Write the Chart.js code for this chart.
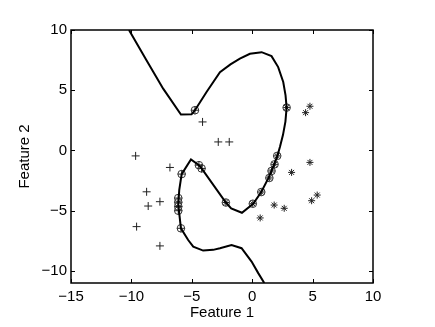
<!DOCTYPE html>
<html>
<head>
<meta charset="utf-8">
<script src="https://cdn.jsdelivr.net/npm/chart.js@4"></script>
<style>
  html, body { margin: 0; padding: 0; background: #fff; }
  #wrap { width: 435px; height: 327px; }
</style>
</head>
<body>
<div id="wrap"><canvas id="svmChart"></canvas></div>
<script>
// decision boundary, traced in order
const boundaryX = [-10.2, -8.74, -7.37, -5.9, -5.02, -4.74, -3.78, -2.67, -1.8, -1.02, -0.19, 0.78, 1.6, 2.15, 2.57, 2.76, 2.85, 2.75, 2.55, 2.3, 2.07, 1.6, 1.33, 0.75, 0.08, -0.85, -1.74, -2.18, -4.19, -4.41, -5.07, -5.84, -6.04, -6.12, -5.9, -5.3, -4.88, -4.06, -3.23, -2.67, -1.71, -0.88, -0.05, 0.5, 1.0];
const boundaryY = [10.0, 7.47, 5.13, 2.98, 3.0, 3.34, 4.85, 6.5, 7.15, 7.62, 8.03, 8.16, 7.83, 6.92, 5.68, 4.58, 3.56, 2.4, 1.3, 0.3, -0.5, -1.7, -2.32, -3.45, -4.42, -5.17, -4.8, -4.32, -1.49, -1.22, -0.75, -1.96, -3.29, -4.5, -6.46, -7.43, -7.98, -8.31, -8.25, -8.11, -7.84, -8.11, -9.22, -10.18, -11.0];

// class "+" points
const plusX = [-4.11, -2.81, -1.9, -9.65, -6.81, -8.74, -8.61, -7.64, -9.57, -7.64, -4.74, -4.19, -4.41, -5.84, -6.12, -6.12, -6.12, -6.12, -5.9];
const plusY = [2.37, 0.71, 0.71, -0.45, -1.41, -3.43, -4.61, -4.25, -6.32, -7.92, 3.34, -1.49, -1.22, -1.96, -3.95, -4.3, -4.65, -5.0, -6.46];

// class "*" points
const starX = [4.78, 4.42, 4.78, 3.26, 5.38, 4.92, 1.82, 2.65, 0.66, 2.85, 2.07, 1.85, 1.6, 1.42, 0.75, 0.05, -2.18];
const starY = [3.67, 3.14, -0.99, -1.82, -3.7, -4.17, -4.53, -4.8, -5.6, 3.56, -0.45, -1.15, -1.7, -2.28, -3.45, -4.42, -4.32];

// support vectors (circled)
const svX = [-4.74, -4.19, -4.41, -5.84, -6.12, -6.12, -6.12, -6.12, -5.9, 2.85, 2.07, 1.85, 1.6, 1.42, 0.75, 0.05, -2.18];
const svY = [3.34, -1.49, -1.22, -1.96, -3.95, -4.3, -4.65, -5.0, -6.46, 3.56, -0.45, -1.15, -1.7, -2.28, -3.45, -4.42, -4.32];

const xTicks = [-15, -10, -5, 0, 5, 10];
const yTicks = [-10, -5, 0, 5, 10];

function pts(xs, ys) {
    return xs.map((x, i) => ({x: x, y: ys[i]}));
}

const fontFamily = '"Liberation Sans", Arial, sans-serif';

// box around the plot with ticks pointing inward on all sides
const boxTicks = {
    id: 'boxTicks',
    afterDraw(chart) {
        const {ctx, chartArea: a, scales} = chart;
        const len = 4;
        ctx.save();
        ctx.strokeStyle = '#000';
        ctx.lineWidth = 1;
        ctx.beginPath();
        xTicks.forEach(v => {
            const px = Math.round(scales.x.getPixelForValue(v)) + 0.5;
            ctx.moveTo(px, a.bottom); ctx.lineTo(px, a.bottom - len);
            ctx.moveTo(px, a.top); ctx.lineTo(px, a.top + len);
        });
        yTicks.forEach(v => {
            const py = Math.round(scales.y.getPixelForValue(v)) + 0.5;
            ctx.moveTo(a.left, py); ctx.lineTo(a.left + len, py);
            ctx.moveTo(a.right, py); ctx.lineTo(a.right - len, py);
        });
        ctx.stroke();
        ctx.lineWidth = 1.5;
        ctx.strokeRect(a.left, a.top, a.right - a.left, a.bottom - a.top);
        ctx.restore();
    }
};

const minus = v => String(v).replace('-', '\u2212');

new Chart(document.getElementById('svmChart'), {
    type: 'scatter',
    data: {
        datasets: [{
            data: pts(boundaryX, boundaryY),
            showLine: true,
            borderColor: '#000',
            borderWidth: 2,
            pointRadius: 0,
            tension: 0
        }, {
            data: pts(svX, svY),
            pointStyle: 'circle',
            pointRadius: 3.8,
            borderColor: '#333',
            backgroundColor: 'rgba(0,0,0,0)',
            borderWidth: 1
        }, {
            data: pts(plusX, plusY),
            pointStyle: 'cross',
            pointRadius: 4,
            borderColor: '#222',
            borderWidth: 1
        }, {
            data: pts(starX, starY),
            pointStyle: 'star',
            pointRadius: 3.5,
            borderColor: '#222',
            borderWidth: 1
        }]
    },
    options: {
        responsive: true,
        maintainAspectRatio: false,
        animation: false,
        layout: { padding: { top: 30, right: 62, left: 0, bottom: 0 } },
        plugins: { legend: { display: false }, tooltip: { enabled: false } },
        scales: {
            x: {
                min: -15, max: 10,
                afterBuildTicks: s => { s.ticks = xTicks.map(v => ({value: v})); },
                afterFit: s => { s.height = 44; },
                grid: { display: false, drawTicks: false },
                border: { display: false },
                ticks: { color: '#000', padding: 5, maxRotation: 0, font: { family: fontFamily, size: 15 }, callback: minus },
                title: { display: true, text: 'Feature 1', color: '#000', padding: { top: 0, bottom: 5 }, font: { family: fontFamily, size: 15 } }
            },
            y: {
                min: -11, max: 10,
                afterBuildTicks: s => { s.ticks = yTicks.map(v => ({value: v})); },
                afterFit: s => { s.width = 71; },
                grid: { display: false, drawTicks: false },
                border: { display: false },
                ticks: { color: '#000', padding: 4, font: { family: fontFamily, size: 15 }, callback: minus },
                title: { display: true, text: 'Feature 2', color: '#000', padding: { top: 16, bottom: 0 }, font: { family: fontFamily, size: 15 } }
            }
        }
    },
    plugins: [boxTicks]
});
</script>
</body>
</html>
